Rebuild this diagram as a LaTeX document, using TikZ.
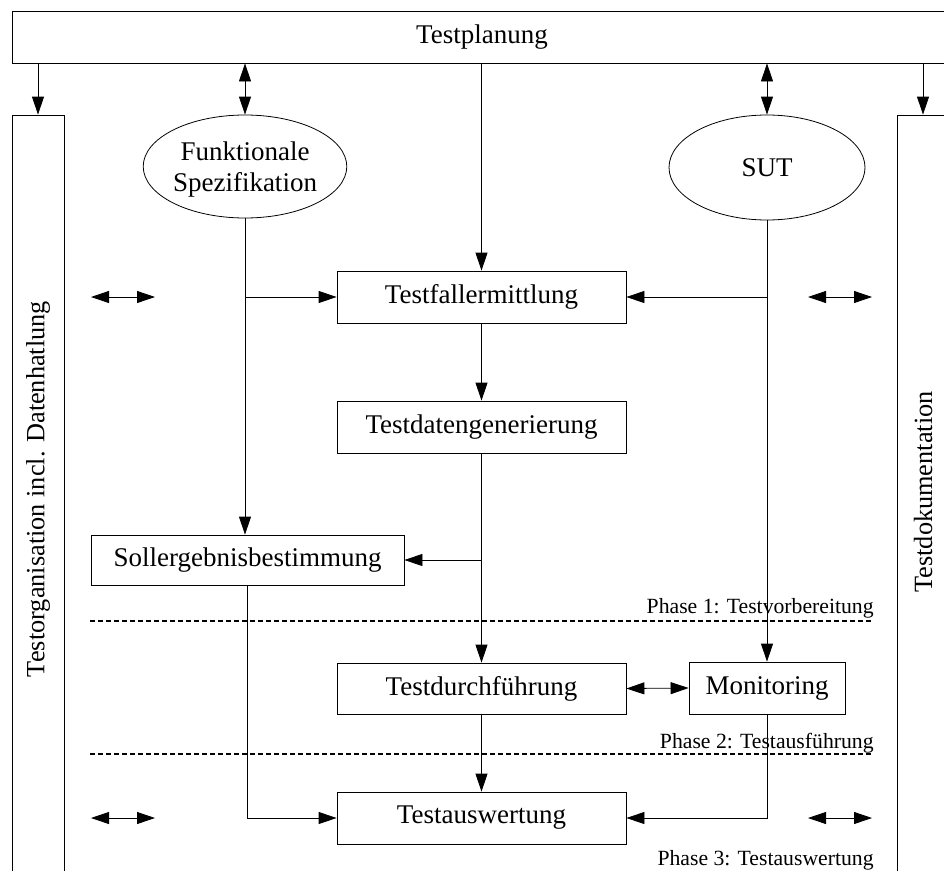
\documentclass[tikz,border=0pt]{standalone}
\usepackage{fontspec}
\setmainfont{Liberation Serif}
\usetikzlibrary{arrows.meta,shapes.geometric}
\begin{document}
\begin{tikzpicture}[x=1pt,y=-1pt,
  line width=0.8pt,
  tip/.style={-{Triangle[length=18pt,width=12pt]}},
  dtip/.style={{Triangle[length=18pt,width=12pt]}-{Triangle[length=18pt,width=12pt]}},
  stip/.style={{Triangle[length=18pt,width=12pt]}-{Triangle[length=18pt,width=12pt]}},
  box/.style={draw,inner sep=0pt,font=\fontsize{27}{31}\selectfont},
  ell/.style={draw,ellipse,inner sep=0pt,align=center,font=\fontsize{27}{31}\selectfont},
  phase/.style={inner sep=0pt,anchor=base east,font=\fontsize{21.7}{24}\selectfont},
  sep/.style={line width=1.6pt,dash pattern=on 5pt off 3pt}]
\useasboundingbox (0,0) rectangle (944,870);
\begin{scope}
\clip (0,0) rectangle (944,870);
\node[box,minimum width=940pt,minimum height=52pt] (tp) at (482,37) {Testplanung};
\node[box,minimum width=52pt,minimum height=765pt] (lb) at (38,497.5) {};
\node[box,minimum width=52pt,minimum height=765pt] (rb) at (923,497.5) {};
\end{scope}
\node[rotate=90,font=\fontsize{26.3}{30}\selectfont] (lt) at (38,489) {Testorganisation incl. Datenhatlung};
\node[rotate=90,font=\fontsize{26.3}{30}\selectfont] (rt) at (923,492) {Testdokumentation};

\node[ell,text depth=0pt,minimum width=190pt,minimum height=103pt] (fs) at (245,166.5) {Funktionale\\Spezifikation};
\node[ell,minimum width=196pt,minimum height=105pt] (sut) at (767,167.5) {SUT};

\node[box,minimum width=289pt,minimum height=52pt] (tf) at (481.5,297) {Testfallermittlung};
\node[box,minimum width=289pt,minimum height=52pt] (td) at (481.5,427) {Testdatengenerierung};
\node[box,minimum width=313pt,minimum height=50pt] (sb) at (247.5,560) {Sollergebnisbestimmung};
\node[box,minimum width=289pt,minimum height=51pt] (tdf) at (481.5,688.5) {Testdurchführung};
\node[box,minimum width=156pt,minimum height=52pt] (mon) at (767,688) {Monitoring};
\node[box,minimum width=289pt,minimum height=52pt] (ta) at (481.5,818) {Testauswertung};

% top arrows
\draw[tip] (lb.north |- tp.south) -- (lb.north);
\draw[tip] (rb.north |- tp.south) -- (rb.north);
\draw[dtip] (fs.north |- tp.south) -- (fs.north);
\draw[dtip] (sut.north |- tp.south) -- (sut.north);
\draw[tip] (tf.north |- tp.south) -- (tf.north);

% flows
\draw[tip] (fs.south) -- (fs.south |- sb.north);
\draw[tip] (fs.south |- tf.west) -- (tf.west);
\draw[tip] (sut.south) -- (mon.north);
\draw[tip] (sut.south |- tf.east) -- (tf.east);
\draw[tip] (tf.south) -- (td.north);
\draw[tip] (td.south) -- (tdf.north);
\draw[tip] (td.south |- sb.east) -- (sb.east);
\draw[dtip] (tdf.east) -- (mon.west);
\draw[tip] (tdf.south) -- (ta.north);
\draw[tip] (sb.south) |- (ta.west);
\draw[tip] (mon.south) |- (ta.east);

% small double arrows
\coordinate (a1) at (91,297); \coordinate (b1) at (155,297);
\coordinate (a2) at (808,297); \coordinate (b2) at (872,297);
\coordinate (a3) at (91,818); \coordinate (b3) at (155,818);
\coordinate (a4) at (808,818); \coordinate (b4) at (872,818);
\draw[stip] (a1) -- (b1);
\draw[stip] (a2) -- (b2);
\draw[stip] (a3) -- (b3);
\draw[stip] (a4) -- (b4);

% phase separators
\coordinate (s1a) at (90,621); \coordinate (s1b) at (873,621);
\coordinate (s2a) at (90,754); \coordinate (s2b) at (873,754);
\draw[sep] (s1a) -- (s1b);
\draw[sep] (s2a) -- (s2b);
\node[phase] (p1) at (874,613) {Phase 1: Testvorbereitung};
\node[phase] (p2) at (874,748) {Phase 2: Testausführung};
\node[phase] (p3) at (874,865) {Phase 3: Testauswertung};
\end{tikzpicture}
\end{document}
